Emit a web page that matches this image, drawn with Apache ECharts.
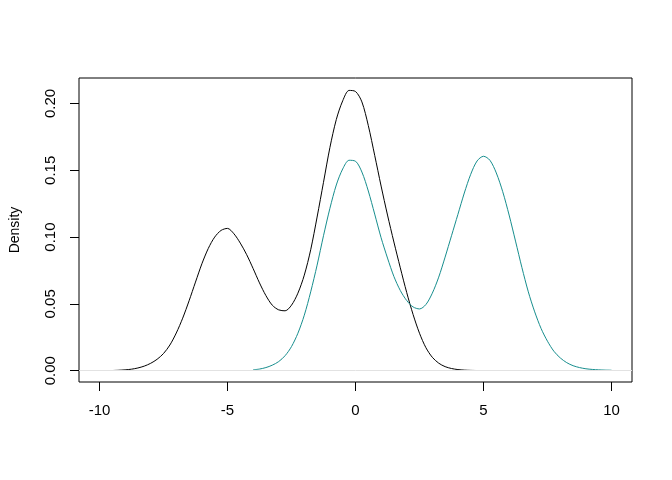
<!DOCTYPE html>
<html>
<head>
<meta charset="utf-8">
<script src="https://cdn.jsdelivr.net/npm/echarts@6/dist/echarts.min.js"></script>
<style>
html,body{margin:0;padding:0;background:#fff;}
#c{width:672px;height:480px;}
</style>
</head>
<body>
<div id="c"></div>
<script>
// Black density curve: x positions and density values
var blackX = [-9.5, -9.25, -9.0, -8.75, -8.5, -8.25, -8.0, -7.75, -7.5, -7.25, -7.0, -6.75, -6.5, -6.25, -6.0, -5.75, -5.5, -5.25, -5.0, -4.75, -4.5, -4.25, -4.0, -3.75, -3.5, -3.25, -3.0, -2.75, -2.5, -2.25, -2.0, -1.75, -1.5, -1.25, -1.0, -0.75, -0.5, -0.25, 0.0, 0.25, 0.5, 0.75, 1.0, 1.25, 1.5, 1.75, 2.0, 2.25, 2.5, 2.75, 3.0, 3.25, 3.5, 3.75, 4.0, 4.25, 4.5, 4.75];
var blackY = [0.0001, 0.0003, 0.0006, 0.0011, 0.0020, 0.0034, 0.0055, 0.0085, 0.0128, 0.0192, 0.0282, 0.0393, 0.0523, 0.0663, 0.0800, 0.0915, 0.1000, 0.1050, 0.1065, 0.1025, 0.0955, 0.0868, 0.0765, 0.0657, 0.0562, 0.0490, 0.0455, 0.0448, 0.0490, 0.0580, 0.0715, 0.0905, 0.1150, 0.1410, 0.1670, 0.1880, 0.2020, 0.2098, 0.2090, 0.2012, 0.1835, 0.1612, 0.1382, 0.1165, 0.0963, 0.0770, 0.0585, 0.0420, 0.0280, 0.0172, 0.0100, 0.0056, 0.0030, 0.0016, 0.0008, 0.0004, 0.0002, 0.0001];
// Teal density curve: x positions and density values
var tealX = [-4.0, -3.75, -3.5, -3.25, -3.0, -2.75, -2.5, -2.25, -2.0, -1.75, -1.5, -1.25, -1.0, -0.75, -0.5, -0.25, 0.0, 0.25, 0.5, 0.75, 1.0, 1.25, 1.5, 1.75, 2.0, 2.25, 2.5, 2.75, 3.0, 3.25, 3.5, 3.75, 4.0, 4.25, 4.5, 4.75, 5.0, 5.25, 5.5, 5.75, 6.0, 6.25, 6.5, 6.75, 7.0, 7.25, 7.5, 7.75, 8.0, 8.25, 8.5, 8.75, 9.0, 9.25, 9.5, 9.75, 10.0];
var tealY = [0.0006, 0.0012, 0.0023, 0.0041, 0.0068, 0.0112, 0.0180, 0.0280, 0.0415, 0.0590, 0.0790, 0.1010, 0.1215, 0.1390, 0.1510, 0.1575, 0.1568, 0.1487, 0.1345, 0.1172, 0.0995, 0.0843, 0.0705, 0.0600, 0.0525, 0.0477, 0.0462, 0.0495, 0.0580, 0.0700, 0.0850, 0.1010, 0.1170, 0.1330, 0.1470, 0.1570, 0.1605, 0.1575, 0.1480, 0.1340, 0.1165, 0.0970, 0.0772, 0.0590, 0.0440, 0.0315, 0.0220, 0.0145, 0.0095, 0.0060, 0.0037, 0.0023, 0.0014, 0.0009, 0.0006, 0.0004, 0.0003];
// Tick values and labels
var xTicks = [-10, -5, 0, 5, 10];
var yTicks = [0, 0.05, 0.10, 0.15, 0.20];
var yTickLabels = ['0.00', '0.05', '0.10', '0.15', '0.20'];

function pairs(xs, ys) { return xs.map(function (x, i) { return [x, ys[i]]; }); }

var font = 'Liberation Sans, Arial, Helvetica, sans-serif';
var chart = echarts.init(document.getElementById('c'), null, {renderer: 'canvas'});
chart.setOption({
  animation: false,
  backgroundColor: '#ffffff',
  grid: {left: 78, right: 40, top: 78, bottom: 98, show: true, borderColor: '#000', borderWidth: 1, backgroundColor: 'transparent'},
  xAxis: {
    type: 'value', min: -10.8, max: 10.8,
    axisLine: {show: false, onZero: false},
    splitLine: {show: false},
    axisTick: {show: true, length: 9, lineStyle: {color: '#000'}, customValues: xTicks},
    axisLabel: {show: true, margin: 21, color: '#000', fontSize: 15, fontFamily: font, customValues: xTicks,
      formatter: function (v) { return String(v); }}
  },
  yAxis: {
    type: 'value', min: -0.0085, max: 0.2191,
    name: 'Density', nameLocation: 'middle', nameGap: 57, nameRotate: 90,
    nameTextStyle: {color: '#000', fontSize: 14, fontFamily: font},
    axisLine: {show: false, onZero: false},
    splitLine: {show: false},
    axisTick: {show: true, length: 9, lineStyle: {color: '#000'}, customValues: yTicks},
    axisLabel: {show: true, rotate: 90, margin: 21, color: '#000', fontSize: 15, fontFamily: font, customValues: yTicks,
      formatter: function (v) { var i = yTicks.findIndex(function (t) { return Math.abs(t - v) < 1e-9; }); return i >= 0 ? yTickLabels[i] : ''; }}
  },
  series: [
    {
      type: 'line', data: pairs(blackX, blackY), smooth: 0.3, showSymbol: false,
      lineStyle: {color: '#000', width: 1}, itemStyle: {color: '#000'}, z: 3,
      markLine: {silent: true, symbol: 'none', label: {show: false}, lineStyle: {color: '#e2e2e2', width: 1, type: 'solid'}, data: [{yAxis: 0}]}
    },
    {
      type: 'line', data: pairs(tealX, tealY), smooth: 0.3, showSymbol: false,
      lineStyle: {color: '#178e8e', width: 1}, itemStyle: {color: '#178e8e'}, z: 3
    }
  ]
});
</script>
</body>
</html>
